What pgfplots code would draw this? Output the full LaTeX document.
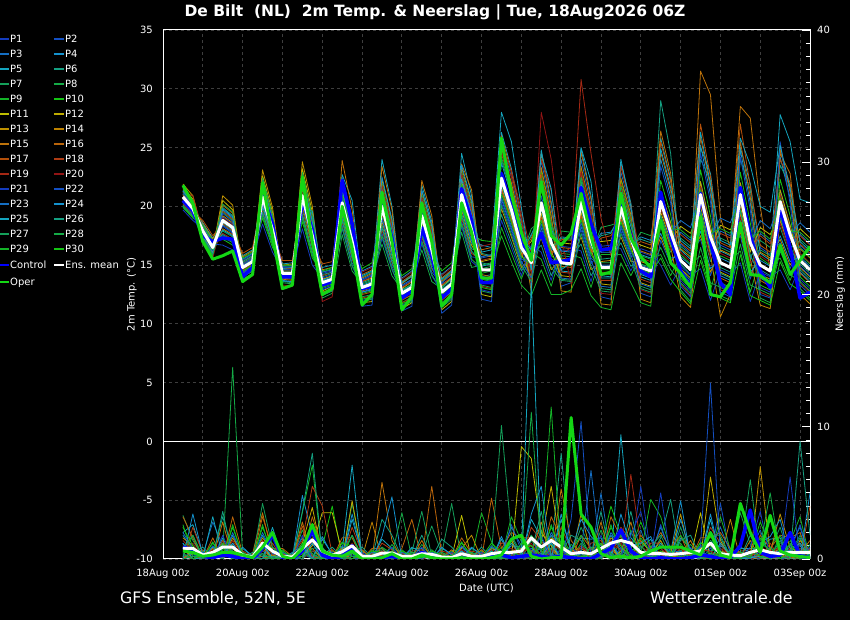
\documentclass[border=0pt]{standalone}
\usepackage{pgfplots}
\pgfplotsset{compat=1.18}
\usepackage{pgfplotstable}
\usepackage{fontspec}
\setmainfont{DejaVu Sans}

\definecolor{c1}{RGB}{20,60,190}
\definecolor{c2}{RGB}{20,80,195}
\definecolor{c3}{RGB}{20,110,195}
\definecolor{c4}{RGB}{20,145,205}
\definecolor{c5}{RGB}{20,165,190}
\definecolor{c6}{RGB}{20,160,130}
\definecolor{c7}{RGB}{20,160,90}
\definecolor{c8}{RGB}{20,170,70}
\definecolor{c9}{RGB}{20,180,40}
\definecolor{c10}{RGB}{20,195,20}
\definecolor{c11}{RGB}{190,190,0}
\definecolor{c12}{RGB}{190,170,0}
\definecolor{c13}{RGB}{190,145,0}
\definecolor{c14}{RGB}{190,130,0}
\definecolor{c15}{RGB}{190,115,10}
\definecolor{c16}{RGB}{185,100,10}
\definecolor{c17}{RGB}{180,80,10}
\definecolor{c18}{RGB}{175,60,20}
\definecolor{c19}{RGB}{165,40,20}
\definecolor{c20}{RGB}{145,20,20}
\definecolor{c21}{RGB}{20,60,190}
\definecolor{c22}{RGB}{20,80,195}
\definecolor{c23}{RGB}{20,110,195}
\definecolor{c24}{RGB}{20,145,205}
\definecolor{c25}{RGB}{20,165,190}
\definecolor{c26}{RGB}{20,160,130}
\definecolor{c27}{RGB}{20,160,90}
\definecolor{c28}{RGB}{20,170,70}
\definecolor{c29}{RGB}{20,180,40}
\definecolor{c30}{RGB}{20,195,20}
\definecolor{ctlblue}{RGB}{0,0,255}
\definecolor{opergreen}{RGB}{20,215,20}
\definecolor{gridgray}{RGB}{62,62,62}

% 2m temperature (deg C), 6-hourly, t in days from 18Aug 00z
\pgfplotstableread{
t p1 p2 p3 p4 p5 p6 p7 p8 p9 p10 p11 p12 p13 p14 p15 p16 p17 p18 p19 p20 p21 p22 p23 p24 p25 p26 p27 p28 p29 p30 ctl oper mean
0.5 20.5 21.0 20.0 21.3 20.7 21.4 20.3 21.0 21.2 19.9 21.7 20.7 21.9 21.0 20.4 21.5 20.6 21.2 20.2 20.9 19.7 21.1 20.6 21.3 20.4 20.1 20.8 21.6 20.0 20.8 20.5 21.8 20.8
0.75 19.5 20.0 19.1 20.2 19.7 20.4 19.4 19.9 20.1 19.0 20.6 19.7 20.9 20.0 19.5 20.5 19.6 20.9 19.3 19.9 18.8 20.1 19.6 20.3 19.4 19.2 19.8 20.5 19.1 19.8 19.6 20.2 19.8
1.0 18.3 17.6 18.0 17.4 18.6 17.8 18.2 17.2 18.0 18.4 17.5 18.1 17.7 18.5 17.5 17.9 18.8 17.8 18.2 17.0 18.1 17.6 18.4 17.4 18.0 18.3 17.3 17.9 18.4 17.7 17.5 17.0 17.9
1.25 17.0 16.2 16.7 15.9 17.3 16.4 16.8 15.8 16.6 17.1 16.1 16.7 16.3 17.2 16.0 16.5 17.5 16.4 16.9 15.6 16.8 16.2 17.0 16.0 16.6 16.9 15.9 16.5 17.1 16.3 17.0 15.5 16.5
1.5 18.3 19.1 17.5 19.7 18.6 19.9 17.9 18.9 19.5 17.2 20.5 18.7 20.9 19.2 18.1 20.1 18.5 19.6 17.7 19.0 16.7 19.4 18.4 19.8 18.0 17.6 18.8 20.2 17.4 18.9 17.3 15.8 18.8
1.75 17.7 18.5 17.0 19.0 18.0 19.2 17.4 18.3 18.8 16.7 19.7 18.1 20.1 18.6 17.6 19.4 17.9 18.9 17.2 18.4 16.3 18.7 17.8 19.1 17.5 17.1 18.2 19.5 16.9 18.3 17.2 16.2 18.2
2.0 15.4 14.4 15.0 14.0 15.8 14.7 15.2 13.8 14.9 15.5 14.3 15.1 14.5 15.7 14.2 14.8 16.0 14.6 15.3 13.6 15.1 14.3 15.5 14.1 14.9 15.3 14.0 14.7 15.6 14.5 14.0 13.6 14.8
2.25 15.9 14.9 15.5 14.5 16.3 15.2 15.7 14.3 15.4 16.0 14.8 15.6 15.0 16.2 14.7 15.3 16.5 15.1 15.8 14.1 15.6 14.8 16.0 14.6 15.4 15.8 14.5 15.2 16.1 15.0 14.8 14.2 15.3
2.5 20.2 21.2 19.4 21.8 20.6 22.0 19.8 20.9 21.5 19.0 22.6 20.7 23.1 21.3 20.1 22.2 20.4 21.6 19.6 21.0 18.5 21.4 20.3 21.9 20.0 19.5 20.8 22.4 19.2 20.9 21.0 22.0 20.8
2.75 17.5 18.3 16.8 18.8 17.8 19.0 17.2 18.1 18.6 16.5 19.5 17.9 19.9 18.4 17.4 19.2 17.7 18.7 17.0 18.2 16.1 18.5 17.6 18.9 17.3 16.9 18.0 19.3 16.7 18.1 18.5 17.5 18.0
3.0 14.8 14.0 14.5 13.6 15.1 14.2 14.6 13.5 14.4 14.9 13.9 14.5 14.1 15.0 13.8 14.3 15.4 14.1 14.7 13.3 14.6 13.9 14.9 13.7 14.4 14.7 13.6 14.2 15.0 14.0 14.0 13.0 14.3
3.25 14.8 13.9 14.5 13.6 15.2 14.2 14.7 13.4 14.4 15.0 13.8 14.5 14.1 15.1 13.7 14.3 15.4 14.1 14.7 13.2 14.6 13.9 14.9 13.6 14.4 14.8 13.5 14.2 15.0 14.0 14.0 13.3 14.3
3.5 20.2 21.4 19.1 22.1 20.6 22.4 19.7 21.1 21.8 18.7 23.2 20.8 23.8 21.5 20.0 22.7 20.5 22.0 19.4 21.2 18.1 21.7 20.3 22.3 19.9 19.3 20.9 22.9 19.0 21.0 20.5 22.5 20.9
3.75 16.9 17.9 15.9 18.5 17.2 18.8 16.5 17.6 18.3 15.6 19.5 17.4 20.0 18.0 16.7 19.1 17.1 18.4 16.2 17.8 15.0 18.2 17.0 18.7 19.6 16.1 17.5 19.2 15.8 17.6 18.0 17.0 17.5
4.0 14.3 13.0 13.8 12.5 14.8 13.3 14.0 12.2 13.6 14.4 12.8 13.8 13.2 14.6 12.7 13.5 15.1 13.2 14.1 11.9 13.9 12.9 14.4 12.6 13.7 14.2 12.4 13.4 14.5 13.1 13.3 12.5 13.5
4.25 14.5 13.3 14.0 12.8 15.0 13.6 14.3 12.6 13.9 14.7 13.2 14.1 13.5 14.8 13.0 13.8 15.3 13.6 14.4 12.3 14.2 13.2 14.6 12.9 14.0 14.4 12.8 13.7 14.8 13.4 13.6 13.0 13.8
4.5 20.9 18.4 21.7 19.6 22.7 19.0 20.6 17.6 22.0 20.0 21.2 19.3 22.3 20.2 23.9 20.3 21.5 18.7 21.8 19.7 18.1 20.8 19.4 22.4 21.4 18.8 20.5 18.2 21.1 19.9 22.2 20.0 20.3
4.75 17.6 15.2 18.3 16.3 20.5 15.7 17.3 14.5 18.5 16.7 17.8 16.0 18.8 16.9 19.7 17.0 18.1 15.5 18.4 16.4 14.9 17.4 16.2 19.0 18.0 15.6 17.1 15.0 17.7 16.6 18.5 16.5 17.0
5.0 12.0 13.7 12.7 14.5 13.3 14.0 12.3 13.4 12.6 14.7 11.8 13.6 13.0 13.9 12.8 14.2 12.5 13.6 12.2 14.4 13.1 11.5 13.8 12.7 14.1 13.5 11.9 13.2 12.9 12.1 13.0 11.6 13.1
5.25 12.2 14.1 13.0 14.9 13.6 14.4 12.5 13.7 12.8 15.2 11.9 13.9 13.3 14.3 13.1 14.6 12.7 14.0 12.4 14.8 13.4 11.6 14.2 12.9 14.5 13.8 12.1 13.5 13.2 12.3 13.2 12.5 13.4
5.5 20.7 17.7 21.6 19.1 24.0 18.4 20.4 16.8 22.0 19.6 21.1 18.7 22.3 19.8 23.4 20.0 21.4 18.0 21.8 19.3 17.3 20.5 18.9 22.5 21.3 18.2 20.2 17.5 20.9 19.5 20.5 21.2 20.0
5.75 17.4 14.9 18.2 16.1 20.0 15.5 17.1 14.1 18.5 16.5 17.7 15.8 18.8 16.7 19.7 16.8 18.0 15.2 18.3 16.2 14.6 17.3 15.9 18.9 17.9 15.3 17.0 14.7 17.6 16.4 17.3 17.0 16.8
6.0 11.6 13.2 12.3 13.9 12.8 13.5 11.8 12.9 12.1 14.1 11.3 13.0 12.5 13.4 12.3 13.6 12.0 13.1 11.8 13.8 12.6 11.1 13.3 12.2 13.5 12.9 11.5 12.7 12.4 11.7 12.2 11.2 12.6
6.25 12.0 13.7 12.9 14.5 13.3 14.0 12.3 13.4 12.4 14.7 11.8 13.6 13.0 14.1 12.8 14.2 12.5 13.6 12.2 14.4 13.3 11.5 13.8 12.7 14.1 13.3 11.9 13.2 12.9 12.1 12.8 12.3 13.1
6.5 19.8 17.1 20.6 18.4 21.8 17.8 19.5 16.3 21.0 18.9 20.2 18.1 21.3 19.0 22.2 19.2 20.5 17.4 20.8 18.6 16.8 19.7 18.2 21.4 20.3 17.6 19.4 17.0 20.0 18.7 18.2 20.3 19.2
6.75 16.9 14.4 17.7 15.6 18.7 15.0 16.6 13.6 18.0 16.0 17.2 15.3 18.3 16.2 19.2 16.3 17.5 14.7 17.8 15.7 14.1 16.8 15.4 18.4 17.4 14.8 16.5 14.2 17.1 15.9 15.8 17.0 16.3
7.0 11.5 13.4 12.3 14.2 12.9 13.7 11.8 13.0 12.1 14.5 11.2 13.2 12.6 13.6 12.4 13.9 12.0 13.3 11.7 14.1 12.7 10.9 13.5 12.2 13.8 13.1 11.4 12.8 12.5 11.6 12.2 11.5 12.7
7.25 12.2 13.9 13.0 14.9 13.6 14.4 12.5 13.9 12.8 15.2 11.9 13.9 13.3 14.3 13.3 14.6 12.7 14.0 12.4 14.8 13.4 11.6 14.2 12.7 14.5 13.8 12.1 13.5 13.2 12.3 13.0 12.5 13.4
7.5 21.7 18.7 22.6 20.1 24.5 19.4 21.4 17.8 23.0 20.6 22.1 19.7 23.3 20.8 23.6 21.0 22.4 19.0 22.8 20.3 18.3 21.5 19.9 23.5 22.3 19.2 21.2 18.5 21.9 20.5 21.5 20.3 21.0
7.75 18.7 15.7 19.6 17.1 20.9 16.4 18.4 14.8 20.0 17.6 19.1 16.7 20.3 17.8 21.4 18.0 19.4 16.0 19.8 17.3 15.3 18.5 16.9 20.5 19.3 16.2 18.2 15.5 18.9 17.5 18.8 17.8 18.0
8.0 12.9 15.6 14.0 16.7 14.9 16.0 13.3 15.0 13.8 17.1 12.5 15.3 14.5 15.9 14.2 16.3 13.6 15.4 13.2 16.6 14.6 12.1 15.7 13.9 16.1 15.2 12.8 14.7 14.3 13.1 13.5 13.9 14.6
8.25 12.7 15.8 14.2 16.5 15.1 15.8 13.1 15.2 13.6 17.0 12.3 15.5 14.7 15.7 14.0 16.5 13.4 15.6 13.0 16.8 14.4 11.9 15.9 13.7 16.3 15.0 12.6 14.9 14.5 12.9 13.5 13.9 14.6
8.5 20.3 22.9 25.5 21.6 26.3 19.3 24.0 21.1 18.2 24.7 22.1 21.6 19.8 25.0 21.4 26.0 21.4 24.5 25.2 24.6 18.8 20.8 20.6 23.7 28.0 21.9 20.1 24.2 17.5 21.1 22.8 25.8 22.4
8.75 17.9 20.2 22.5 19.0 23.2 16.9 21.1 18.6 16.0 21.8 19.5 19.0 17.4 22.0 18.8 22.9 18.8 21.5 23.0 22.5 16.5 18.3 18.1 20.9 25.5 19.2 17.6 21.3 15.3 18.6 20.0 21.0 19.7
9.0 15.1 16.8 18.5 16.0 19.1 14.5 17.5 15.7 13.8 18.0 16.3 16.0 14.8 18.2 15.8 18.9 15.8 17.9 19.7 19.2 14.1 15.5 15.3 17.4 19.9 16.2 15.0 17.7 13.3 15.7 16.8 17.8 16.5
9.25 16.4 13.1 15.4 17.6 14.5 15.8 13.7 18.1 16.1 14.8 17.0 14.0 15.7 12.7 16.6 14.9 17.3 14.3 16.0 13.4 16.7 15.2 13.9 16.3 14.6 17.5 13.6 15.5 12.4 15.1 15.8 15.4 15.2
9.5 17.9 20.9 23.9 19.4 24.8 16.7 22.1 18.8 15.5 23.0 20.0 19.4 17.3 23.3 19.1 24.5 19.1 22.7 24.0 28.0 16.1 18.5 18.2 21.8 24.5 19.7 17.6 22.4 14.6 18.8 17.7 22.1 20.3
9.75 15.1 17.4 19.7 16.2 20.4 14.1 18.3 15.8 13.2 19.0 16.7 16.2 14.6 19.2 16.0 20.1 16.0 18.7 21.3 24.0 13.7 15.5 15.3 18.1 21.5 16.4 14.8 18.5 12.5 15.8 15.2 17.5 16.9
10.0 16.3 13.2 15.3 17.4 14.5 15.8 13.8 17.9 16.0 14.8 16.9 14.1 15.6 12.8 16.5 14.9 17.2 14.4 15.9 17.4 16.6 15.2 13.9 16.2 14.6 17.3 13.7 15.5 12.5 15.1 15.3 16.7 15.2
10.25 16.2 13.5 15.2 17.3 14.4 15.7 13.7 17.8 15.9 15.0 16.8 14.0 15.5 12.7 16.4 14.8 17.1 14.3 16.5 13.4 16.5 15.1 13.8 16.1 15.2 17.2 13.6 15.4 12.9 15.0 15.5 17.7 15.1
10.5 18.0 21.0 24.0 19.5 24.9 16.8 22.2 18.9 15.6 23.1 20.1 19.5 17.4 23.4 19.2 24.6 19.2 22.8 30.8 23.0 16.2 18.6 18.3 21.9 25.0 19.8 17.7 22.5 14.7 18.9 21.6 21.1 20.4
10.75 15.1 17.6 20.1 16.4 20.9 14.1 18.6 15.9 13.1 19.4 16.9 16.4 14.6 19.6 16.1 20.6 16.1 19.1 24.5 19.5 13.6 15.6 15.4 18.4 22.1 16.6 14.9 18.9 12.4 15.9 18.5 17.5 17.1
11.0 16.2 12.3 15.0 17.7 13.9 15.5 13.0 18.2 15.9 14.3 17.0 13.4 15.3 11.7 16.4 14.4 17.3 13.7 19.0 12.6 16.6 14.8 13.2 16.1 14.1 17.5 12.8 15.2 11.4 14.6 16.3 14.2 14.8
11.25 16.3 12.1 15.0 17.8 13.9 15.6 12.9 18.4 15.9 14.2 17.1 13.3 15.4 11.6 16.5 14.4 17.5 13.7 15.8 12.5 16.7 14.8 13.1 16.1 14.0 17.7 12.7 15.2 11.2 14.6 16.4 14.4 14.8
11.5 17.9 20.4 22.9 19.2 23.7 16.9 21.4 18.7 15.9 22.2 19.7 19.2 17.4 22.4 18.9 23.4 18.9 21.9 23.5 21.5 16.4 18.4 18.2 21.2 24.0 19.4 17.7 21.7 15.2 18.7 20.0 21.1 19.9
11.75 15.7 17.7 19.7 16.7 20.3 14.9 18.5 16.3 14.1 19.1 17.1 16.7 15.3 19.3 16.5 20.1 16.5 18.9 20.0 18.5 14.5 16.1 15.9 18.3 20.0 16.9 15.5 18.7 13.5 16.3 17.5 17.3 17.3
12.0 16.1 12.6 15.0 17.4 14.0 15.4 13.2 17.8 15.8 14.3 16.7 13.5 15.3 12.1 16.2 14.5 17.0 13.8 15.6 12.9 16.4 14.8 13.4 15.9 14.2 17.2 13.0 15.1 11.8 14.6 14.5 15.7 14.8
12.25 15.8 12.3 14.7 17.1 13.7 15.1 12.9 17.5 15.5 14.0 16.4 13.2 15.0 11.8 15.9 14.2 16.7 13.5 15.3 12.6 16.1 14.5 13.1 15.6 13.9 16.9 12.7 14.8 11.5 14.3 14.0 14.8 14.5
12.5 21.3 17.1 18.9 24.0 25.8 29.0 18.3 21.0 15.9 22.2 19.5 21.3 17.4 18.9 26.4 24.6 25.5 19.8 21.0 18.6 15.0 23.4 20.4 17.7 24.9 19.2 19.2 16.5 20.7 15.6 21.2 18.8 20.4
12.75 18.6 15.1 16.6 20.8 22.3 24.5 16.1 18.3 14.1 19.3 17.1 18.6 15.3 16.6 22.8 21.3 22.1 17.3 18.3 16.3 13.3 20.3 17.8 15.6 21.6 16.8 16.8 14.6 18.1 13.8 17.5 15.2 17.8
13.0 13.7 16.8 17.8 14.4 16.3 15.1 17.3 12.9 15.9 13.9 18.3 14.7 16.4 12.3 15.4 14.2 16.9 17.6 13.4 16.1 14.9 13.2 18.8 15.7 17.1 14.6 16.6 13.5 18.0 12.7 14.5 14.3 15.4
13.25 12.8 16.0 17.1 13.5 15.5 14.2 16.6 11.9 15.1 13.0 17.7 13.9 15.7 11.4 14.6 13.3 16.2 16.9 12.4 15.3 14.1 12.3 18.2 15.0 16.4 13.7 15.9 12.6 17.3 11.7 13.1 13.1 14.6
13.5 22.1 17.2 19.3 25.2 25.0 24.0 18.6 21.7 15.8 23.1 20.0 22.1 17.5 19.3 31.5 25.9 27.0 20.3 21.7 18.9 14.7 24.5 21.0 17.9 26.3 19.6 19.6 16.5 21.4 15.4 21.1 19.1 21.0
13.75 18.3 14.1 15.9 21.0 22.8 22.2 15.3 18.0 12.9 19.2 16.5 18.3 14.4 15.9 29.5 21.6 22.5 16.8 18.0 15.6 12.0 20.4 17.4 14.7 21.9 16.2 16.2 13.5 17.7 12.6 17.0 12.5 17.4
14.0 13.3 16.7 17.9 14.1 16.2 14.8 17.3 12.4 15.8 13.5 18.4 14.4 16.3 10.6 19.0 13.9 16.9 17.7 12.9 16.0 14.6 12.7 19.0 15.6 17.1 14.3 16.5 13.1 18.1 12.2 13.5 12.3 15.2
14.25 12.9 16.3 17.5 13.7 15.8 14.4 16.9 12.0 15.4 13.1 18.0 14.0 15.9 12.5 16.5 13.5 16.5 17.3 12.5 15.6 14.2 12.3 18.6 15.2 16.7 13.9 16.1 12.7 17.7 11.8 12.5 13.5 14.8
14.5 22.0 17.5 19.4 24.8 25.0 24.0 18.8 21.6 16.2 22.9 20.0 22.0 17.8 19.4 28.5 25.5 27.0 20.4 21.6 19.1 15.2 24.2 21.0 18.1 25.8 19.7 19.7 16.8 21.3 15.9 21.6 18.6 21.0
14.75 17.7 13.8 15.5 20.3 21.9 21.4 14.9 17.5 12.7 18.6 16.1 17.7 14.1 15.5 27.5 20.8 21.7 16.3 17.5 15.2 11.9 19.7 16.9 14.4 23.5 15.8 15.8 13.3 17.2 12.4 17.5 14.2 16.9
15.0 13.1 16.5 17.7 13.9 16.0 14.6 17.1 12.2 15.6 13.3 18.2 14.2 16.1 11.6 20.0 13.7 16.7 17.5 12.7 15.8 14.4 12.5 18.8 15.4 20.0 14.1 16.3 12.9 17.9 12.0 14.5 14.1 15.0
15.25 12.7 15.9 17.0 13.4 15.4 14.1 16.5 11.8 15.0 12.9 17.6 13.8 15.6 11.3 14.5 13.2 16.1 16.8 12.3 15.2 14.0 12.2 18.1 14.9 19.5 13.6 15.8 12.5 17.2 11.6 13.1 13.5 14.5
15.5 21.4 16.9 18.8 24.2 27.8 23.5 18.2 21.0 15.6 22.3 19.4 21.4 17.2 18.8 24.5 24.9 24.0 19.8 21.0 18.5 14.6 25.5 20.4 17.5 25.2 19.1 19.1 16.2 20.7 15.3 20.0 16.7 20.4
15.75 18.4 14.7 16.3 20.7 25.5 21.8 15.8 18.1 13.7 19.2 16.8 18.4 15.0 16.3 22.8 21.2 22.0 17.1 18.1 16.0 12.9 20.2 17.6 15.3 21.5 16.6 16.6 14.2 17.9 13.4 16.5 14.2 17.6
16.0 13.8 16.7 17.6 14.4 20.6 15.1 17.2 13.0 15.9 14.0 18.1 14.8 16.4 12.5 15.4 14.3 16.8 17.5 13.5 16.0 14.9 13.3 18.6 15.7 17.0 14.6 16.5 13.6 17.8 12.8 12.2 15.4 15.4
16.25 13.0 15.9 16.8 13.6 20.3 14.3 16.4 12.2 15.1 13.2 17.3 14.0 15.6 11.7 14.6 13.5 16.0 16.7 12.7 15.2 14.1 12.5 17.8 14.9 16.2 13.8 15.7 12.8 17.0 12.0 12.7 16.6 14.6
}\temptab

% precipitation (mm), 6-hourly
\pgfplotstableread{
t p1 p2 p3 p4 p5 p6 p7 p8 p9 p10 p11 p12 p13 p14 p15 p16 p17 p18 p19 p20 p21 p22 p23 p24 p25 p26 p27 p28 p29 p30 ctl oper mean
0.5 0.0 1.2 0.2 1.8 2.0 0.6 3.3 0.4 2.6 0.2 1.0 0.0 1.6 0.8 0.0 3.2 0.2 0.0 1.4 0.6 0.0 0.4 2.0 0.0 1.2 0.2 0.8 0.0 0.4 2.4 0.9 0.6 0.8
0.75 0.8 0.2 0.0 0.6 2.6 0.4 1.4 0.0 0.2 1.8 0.0 0.6 1.0 0.0 0.4 1.6 0.0 2.4 0.6 1.2 0.2 0.0 0.8 3.4 0.0 0.4 1.8 0.2 0.0 1.0 0.7 0.5 0.8
1.0 0.1 0.0 0.3 0.1 0.4 0.0 0.2 0.6 0.0 0.2 0.1 0.3 0.0 0.1 0.7 0.0 0.2 0.4 0.1 0.0 0.5 0.1 0.0 0.3 0.1 0.9 0.0 0.2 0.3 0.1 0.2 0.2 0.3
1.25 0.0 0.6 2.8 0.9 0.0 0.3 0.0 0.2 1.3 0.1 0.5 0.0 0.8 0.4 0.0 1.6 0.1 0.0 0.7 0.3 0.0 0.2 1.0 0.0 3.2 0.1 0.4 0.0 0.2 1.2 0.1 0.3 0.5
1.5 0.4 0.0 1.0 0.2 1.6 3.2 0.6 0.5 0.0 0.8 0.2 1.2 0.0 0.4 2.8 0.0 0.6 1.4 0.2 0.0 1.8 0.4 0.0 1.0 0.2 3.6 0.0 0.6 1.2 0.2 0.3 0.5 0.9
1.75 0.0 1.2 0.2 1.8 0.0 0.6 0.0 14.5 2.6 0.2 1.0 0.0 1.6 0.8 0.0 3.2 0.2 0.0 1.4 0.6 0.0 0.4 2.0 0.0 1.2 0.2 0.8 0.0 0.4 2.4 0.2 0.5 0.9
2.0 0.2 0.1 0.0 0.2 0.8 0.1 0.4 0.3 0.1 0.5 0.0 0.2 0.3 0.0 0.1 0.4 0.0 0.6 0.2 0.3 0.1 0.0 0.2 0.9 0.0 0.1 0.5 0.1 0.0 0.3 0.0 0.3 0.3
2.25 0.0 0.0 0.1 0.0 0.2 0.0 0.1 0.3 0.0 0.1 0.0 0.2 0.0 0.0 0.4 0.0 0.1 0.2 0.0 0.0 0.3 0.0 0.0 0.2 0.0 0.5 0.0 0.1 0.2 0.0 0.0 0.1 0.15
2.5 0.0 1.2 0.2 1.8 0.0 0.6 0.0 0.4 2.6 0.2 1.0 0.0 1.6 0.8 3.5 3.2 0.2 0.0 1.4 0.6 0.0 0.4 2.0 0.0 1.2 0.2 4.2 0.0 0.4 2.4 0.8 0.9 1.2
2.75 0.4 0.1 0.0 0.3 2.4 0.2 0.7 0.0 0.1 0.9 0.0 0.3 0.5 0.0 0.2 0.8 0.0 1.2 0.3 0.6 0.1 0.0 0.4 1.7 0.0 0.2 0.9 0.1 0.0 0.5 1.8 2.0 0.6
3.0 0.0 0.3 0.1 0.5 0.0 0.2 0.0 0.1 0.7 0.1 0.3 0.0 0.4 0.2 0.0 0.8 0.1 0.0 0.4 0.2 0.0 0.1 0.5 0.0 0.3 0.1 0.2 0.0 0.1 0.6 0.1 0.2 0.2
3.25 0.1 0.0 0.0 0.1 0.4 0.0 0.2 0.0 0.0 0.3 0.0 0.1 0.2 0.0 0.0 0.2 0.0 0.3 0.1 0.2 0.0 0.0 0.1 0.5 0.0 0.0 0.3 0.0 0.0 0.2 0.0 0.0 0.15
3.5 0.4 0.0 1.0 4.8 1.6 0.0 0.6 2.2 3.5 0.8 0.2 1.2 0.0 0.4 2.8 0.0 2.5 1.4 0.2 0.0 1.8 0.4 0.0 1.0 0.2 3.6 0.0 0.6 1.2 0.2 0.6 0.8 0.8
3.75 0.0 1.2 0.2 1.8 0.0 0.6 0.0 0.4 7.1 0.2 1.0 3.9 1.6 0.8 0.0 3.2 0.2 5.5 1.4 0.6 0.0 0.4 2.0 0.0 1.2 8.0 0.8 0.0 0.4 2.4 2.2 2.6 1.45
4.0 0.4 0.1 0.0 0.3 1.5 0.2 0.7 0.0 0.1 0.9 3.5 0.3 0.5 0.0 0.2 0.8 0.0 4.0 0.3 0.6 0.1 0.0 0.4 1.7 0.0 0.2 0.9 0.1 0.0 0.5 0.3 0.6 0.6
4.25 0.1 0.0 0.3 0.1 0.4 0.0 0.2 0.6 0.0 4.0 3.5 0.3 0.0 0.1 0.7 0.0 0.2 0.4 0.1 0.0 0.5 0.1 0.0 0.3 0.1 0.9 0.0 0.2 0.3 0.1 0.0 0.3 0.3
4.5 0.0 0.6 0.1 0.9 0.0 0.3 0.0 0.2 1.3 0.1 0.5 0.0 0.8 0.4 0.0 1.6 0.1 0.0 0.7 0.3 0.0 0.2 1.0 0.0 0.6 0.1 0.4 0.0 0.2 1.2 0.2 0.2 0.55
4.75 0.8 0.2 0.0 0.6 3.0 0.4 4.2 0.0 0.2 1.8 0.0 4.4 1.0 0.0 0.4 1.6 0.0 2.4 0.6 1.2 0.2 0.0 0.8 3.4 7.1 0.4 1.8 0.2 0.0 1.0 1.0 0.6 1.0
5.0 0.1 0.0 0.3 0.1 0.4 0.0 0.2 0.6 0.0 0.2 0.1 0.3 0.0 0.1 0.7 0.0 0.2 0.4 0.1 0.0 0.5 0.1 0.0 0.3 0.1 0.9 0.0 0.2 0.3 0.1 0.1 0.0 0.2
5.25 0.0 0.3 0.1 0.5 0.0 0.2 0.0 0.1 0.7 0.1 0.3 0.0 0.4 2.8 0.0 0.8 0.1 0.0 0.4 0.2 0.0 0.1 0.5 0.0 0.3 0.1 0.2 0.0 0.1 0.6 0.0 0.0 0.2
5.5 0.4 0.1 0.0 0.3 1.5 0.2 0.7 0.0 0.1 0.9 0.0 0.3 0.5 0.0 5.8 0.8 0.0 1.2 0.3 0.6 0.1 0.0 0.4 1.7 0.0 3.0 0.9 0.1 0.0 0.5 0.1 0.1 0.45
5.75 0.2 0.0 0.5 0.1 0.8 0.0 0.3 1.1 0.0 0.4 0.1 0.6 0.0 0.2 1.4 0.0 0.3 0.7 0.1 0.0 0.9 0.2 0.0 4.7 0.1 1.8 0.0 0.3 0.6 0.1 0.2 0.4 0.45
6.0 0.0 0.3 0.1 0.5 0.0 0.2 0.0 0.1 0.7 0.1 0.3 0.0 0.4 0.2 0.0 0.8 0.1 0.0 0.4 0.2 0.0 0.1 0.5 0.0 0.3 0.1 0.2 3.5 0.1 0.6 0.0 0.0 0.2
6.25 0.2 0.1 0.0 0.2 0.8 0.1 0.4 0.0 0.1 0.5 0.0 0.2 0.3 0.0 0.1 3.0 0.0 0.6 0.2 0.3 0.1 0.0 0.2 0.9 0.0 0.1 0.5 0.1 0.0 0.3 0.0 0.0 0.2
6.5 0.2 0.0 0.5 0.1 0.8 0.0 0.3 1.1 0.0 0.4 0.1 0.6 0.0 0.2 1.4 0.0 0.3 0.7 0.1 0.0 0.9 0.2 0.0 0.5 0.1 1.8 3.6 0.3 0.6 0.1 0.5 0.3 0.4
6.75 0.0 0.3 0.1 0.5 0.0 0.2 2.5 0.1 0.7 0.1 0.3 0.0 0.4 0.2 0.0 5.5 0.1 0.0 0.4 0.2 0.0 0.1 0.5 0.0 0.3 0.1 0.2 0.0 0.1 0.6 0.2 0.1 0.35
7.0 0.2 0.1 0.0 0.2 0.8 0.1 0.4 0.0 0.1 0.5 0.0 0.2 0.3 0.0 0.1 0.4 0.0 0.6 0.2 0.3 0.1 0.0 0.2 0.9 0.0 1.5 0.5 0.1 0.0 0.3 0.0 0.0 0.15
7.25 0.1 0.0 0.3 0.1 0.4 0.0 4.2 0.6 0.0 0.2 0.1 0.3 0.0 0.1 0.7 0.0 0.2 0.4 0.1 0.0 0.5 0.1 0.0 0.3 0.1 0.9 0.0 0.2 0.3 0.1 0.0 0.0 0.1
7.5 0.0 0.6 0.1 0.9 0.0 0.3 0.0 0.2 1.3 0.1 3.3 0.0 0.8 0.4 0.0 1.6 0.1 0.0 0.7 0.3 0.0 0.2 1.0 0.0 0.6 0.1 0.4 0.0 0.2 1.2 0.1 0.1 0.4
7.75 0.2 0.1 0.0 0.2 0.8 0.1 0.4 0.0 0.1 0.5 0.0 0.2 1.8 0.0 0.1 0.4 0.0 0.6 0.2 0.3 0.1 0.0 0.2 0.9 0.0 0.1 0.5 0.1 0.0 0.3 0.0 0.0 0.2
8.0 0.1 0.0 0.3 0.1 0.4 0.0 0.2 0.6 3.5 0.2 0.1 0.3 0.0 0.1 0.7 0.0 0.2 0.4 0.1 0.0 0.5 0.1 0.0 0.3 0.1 0.9 0.0 0.2 0.3 0.1 0.0 0.0 0.2
8.25 0.0 0.6 0.1 0.9 0.0 0.3 0.0 0.2 1.3 0.1 0.5 0.0 0.8 0.4 0.0 4.6 0.1 0.0 0.7 0.3 0.0 0.2 1.0 0.0 0.6 0.1 0.4 0.0 0.2 1.2 0.2 0.1 0.4
8.5 0.4 0.1 0.0 0.3 1.5 0.2 0.7 0.0 0.1 0.9 0.0 0.3 0.5 0.0 0.2 0.8 0.0 1.2 0.3 0.6 0.1 0.0 0.4 1.7 0.0 0.2 10.1 0.1 0.0 0.5 0.3 0.3 0.5
8.75 0.4 2.6 0.2 1.0 0.0 1.6 0.8 0.0 3.2 0.2 0.0 1.4 0.6 0.0 0.4 2.0 0.0 1.2 0.2 0.8 0.0 0.4 2.4 0.0 1.2 0.2 1.8 0.0 0.6 0.0 0.1 1.5 0.5
9.0 0.0 0.6 0.1 0.9 0.0 0.3 0.0 0.2 1.3 0.1 8.5 0.0 0.8 0.4 0.0 1.6 0.1 0.0 0.7 0.3 0.0 0.2 1.0 0.0 0.3 0.1 0.4 0.0 0.2 1.2 0.2 1.8 0.6
9.25 0.8 0.2 0.0 0.6 3.0 0.4 1.4 0.0 0.2 1.8 7.6 0.6 1.0 0.0 0.4 1.6 0.0 2.4 0.6 1.2 0.2 0.0 0.8 3.4 21.0 0.4 1.8 11.1 0.0 1.0 0.3 0.2 1.6
9.5 0.4 0.0 1.0 0.2 1.6 0.0 0.6 2.2 0.0 0.8 2.0 1.2 0.0 0.4 2.8 0.0 0.6 1.4 0.2 0.0 1.8 0.4 0.0 5.5 0.2 3.6 0.0 0.6 1.2 0.2 0.2 0.0 0.9
9.75 0.0 1.2 0.2 1.8 0.0 0.6 0.0 0.4 2.6 0.2 1.0 5.5 1.6 0.8 0.0 3.2 0.2 0.0 1.4 0.6 0.0 0.4 2.0 0.0 1.2 0.2 0.8 0.0 11.5 2.4 0.1 0.1 1.4
10.0 0.8 0.2 0.0 0.6 3.0 8.0 1.4 0.0 0.2 1.8 0.0 0.6 1.0 0.0 5.3 1.6 0.0 2.4 0.6 1.2 0.2 0.0 0.8 3.4 0.0 0.4 1.8 0.2 0.0 1.0 0.2 0.1 0.9
10.25 0.2 0.0 0.5 0.1 0.8 0.0 0.3 1.1 0.0 0.4 0.1 0.6 0.0 0.2 1.4 0.0 0.3 0.7 0.1 0.0 0.9 3.0 0.0 0.5 0.1 1.8 0.0 0.3 0.6 0.1 0.1 10.7 0.4
10.5 0.6 1.0 0.0 0.4 1.6 0.0 2.4 0.6 1.2 0.2 0.0 0.8 3.4 0.0 0.4 1.8 0.2 0.0 1.0 0.8 0.2 10.4 0.6 3.0 0.4 1.4 0.0 0.2 1.8 0.0 0.0 3.4 0.5
10.75 0.4 0.1 0.0 0.3 1.5 0.2 0.7 0.0 0.1 0.9 0.0 0.3 0.5 0.0 0.2 0.8 0.0 1.2 0.3 0.6 0.1 0.0 6.7 1.7 0.0 0.2 0.9 0.1 0.0 0.5 0.0 2.4 0.4
11.0 0.4 0.0 5.0 0.2 1.6 0.0 0.6 2.2 0.0 0.8 0.2 1.2 0.0 0.4 2.8 0.0 0.6 1.4 0.2 0.0 1.8 0.4 0.0 1.0 0.2 3.6 0.0 0.6 1.2 0.2 0.4 0.4 0.8
11.25 0.0 1.2 0.2 1.8 0.0 0.6 0.0 0.4 2.6 4.0 1.0 0.0 1.6 0.8 0.0 3.2 0.2 0.0 1.4 0.6 0.0 0.4 2.0 0.0 1.2 0.2 0.8 0.0 0.4 2.4 0.8 0.1 1.2
11.5 0.8 0.2 0.0 0.6 9.4 0.4 1.4 0.0 0.2 1.8 0.0 0.6 1.0 0.0 0.4 1.6 0.0 2.4 0.6 1.2 0.2 0.0 0.8 3.4 0.0 0.4 1.8 0.2 0.0 1.0 2.2 0.2 1.4
11.75 0.4 0.0 1.0 0.2 1.6 0.0 0.6 2.2 0.0 0.8 0.2 1.2 0.0 0.4 2.8 0.0 0.6 1.4 6.4 0.0 1.8 0.4 0.0 1.0 0.2 3.6 0.0 0.6 1.2 0.2 0.6 0.1 1.2
12.0 5.5 0.6 2.2 0.0 0.8 0.2 1.2 0.0 0.4 2.8 0.0 0.6 1.4 0.2 0.0 1.8 0.4 0.0 1.0 0.2 3.6 0.0 0.6 1.2 0.2 0.4 0.0 1.0 0.2 1.6 0.1 0.2 0.5
12.25 0.4 0.1 0.0 0.3 1.5 0.2 0.7 0.0 4.5 0.9 0.0 0.3 0.5 0.0 0.2 0.8 0.0 1.2 0.3 0.6 0.1 0.0 0.4 1.7 0.0 0.2 0.9 0.1 0.0 0.5 0.0 0.6 0.4
12.5 0.4 2.6 0.2 1.0 0.0 1.6 0.8 0.0 3.2 0.2 0.0 1.4 0.6 0.0 0.4 2.0 0.0 1.2 0.2 0.8 5.0 0.4 2.4 0.0 1.2 0.2 1.8 0.0 0.6 0.0 0.1 0.9 0.4
12.75 0.0 0.3 0.1 0.5 0.0 4.5 0.0 0.1 0.7 0.1 0.3 0.0 0.4 0.2 0.0 0.8 0.1 0.0 0.4 0.2 0.0 0.1 0.5 0.0 0.3 0.1 0.2 0.0 0.1 0.6 0.0 0.9 0.35
13.0 0.6 1.0 0.0 4.4 1.6 0.0 2.4 0.6 1.2 0.2 0.0 0.8 3.4 0.0 0.4 1.8 0.2 0.0 1.0 0.8 0.2 0.0 0.6 3.0 0.4 1.4 0.0 0.2 1.8 0.0 0.0 0.9 0.4
13.25 0.2 0.0 0.5 0.1 0.8 0.0 0.3 1.1 0.0 0.4 0.1 0.6 0.0 0.2 1.4 0.0 0.3 0.7 0.1 0.0 0.9 0.2 0.0 0.5 0.1 1.8 0.0 0.3 0.6 0.1 0.1 0.6 0.5
13.5 0.0 0.6 0.1 0.9 0.0 0.3 0.0 0.2 1.3 0.1 3.5 0.0 0.8 0.4 0.0 1.6 0.1 0.0 0.7 0.3 0.0 1.0 1.0 0.0 0.6 0.1 0.4 0.0 0.2 1.2 0.3 0.3 0.6
13.75 0.8 0.2 0.0 0.6 3.0 0.4 1.4 0.0 0.2 1.8 0.0 6.2 1.0 0.0 0.4 1.6 0.0 2.4 0.6 1.2 0.2 13.3 0.8 3.4 0.0 0.4 1.8 0.2 0.0 1.0 0.2 2.0 1.2
14.0 0.4 4.2 0.2 1.0 0.0 1.6 0.8 0.0 3.2 0.2 0.0 1.4 0.6 0.0 0.4 2.0 0.0 1.2 0.2 0.8 0.0 0.4 2.4 0.0 1.2 0.2 1.8 0.0 0.6 0.0 0.0 0.3 0.4
14.25 0.0 0.3 0.1 0.5 0.0 0.2 0.0 0.1 0.7 0.1 0.3 0.0 0.4 3.0 0.0 0.8 0.1 0.0 0.4 0.2 0.0 0.1 0.5 0.0 0.3 0.1 0.2 0.0 0.1 0.6 0.1 0.1 0.3
14.5 0.2 0.1 0.0 0.2 0.8 0.1 0.4 3.5 0.1 0.5 0.0 0.2 0.3 0.0 0.1 0.4 0.0 0.6 0.2 0.3 0.1 0.0 0.2 0.9 0.0 0.1 0.5 0.1 0.0 0.3 1.0 4.2 0.25
14.75 0.2 0.0 0.5 0.1 0.8 0.0 0.3 1.1 0.0 0.4 0.1 0.6 0.0 0.2 1.4 0.0 0.3 0.7 0.1 0.0 0.9 0.2 0.0 0.5 0.1 1.8 6.0 0.3 0.6 0.1 3.7 2.0 0.5
15.0 0.0 0.6 2.2 0.0 0.8 0.2 1.2 0.0 0.4 2.8 0.0 0.6 7.0 0.2 0.0 1.8 0.4 0.0 1.0 0.2 3.6 0.0 0.6 1.2 0.2 0.4 0.0 1.0 0.2 1.6 0.5 0.5 0.7
15.25 0.4 0.1 0.0 0.3 1.5 0.2 0.7 0.0 0.1 0.9 0.0 0.3 0.5 0.0 0.2 0.8 0.0 1.2 0.3 0.6 0.1 0.0 0.4 1.7 0.0 0.2 0.9 5.0 0.0 0.5 0.2 3.3 0.5
15.5 0.6 1.0 0.0 0.4 1.6 0.0 2.4 0.6 1.2 0.2 0.0 0.8 3.4 0.0 0.4 1.8 0.2 0.0 1.0 0.8 0.2 0.0 0.6 3.0 0.4 1.4 0.0 0.2 1.8 0.0 0.3 0.6 0.4
15.75 0.0 0.6 0.1 0.9 0.0 0.3 0.0 0.2 1.3 0.1 0.5 0.0 0.8 0.4 0.0 1.6 0.1 0.0 0.7 0.3 6.2 0.2 1.0 0.0 0.6 0.1 0.4 0.0 0.2 1.2 2.0 0.3 0.5
16.0 0.4 2.6 0.2 1.0 0.0 1.6 0.8 0.0 3.2 0.2 0.0 1.4 0.6 0.0 0.4 2.0 0.0 1.2 0.2 0.8 0.0 0.4 2.4 0.0 1.2 8.9 1.8 0.0 0.6 0.0 0.2 0.2 0.5
16.25 0.2 0.0 0.5 0.1 0.8 0.0 0.3 1.1 0.0 0.4 0.1 0.6 0.0 0.2 1.4 0.0 4.0 0.7 0.1 0.0 0.9 0.2 0.0 5.0 0.1 1.8 0.0 0.3 0.6 0.1 0.1 0.1 0.5
}\preciptab

\begin{document}
\begin{tikzpicture}
\fill[black] (0pt,0pt) rectangle (850pt,620pt);

\begin{axis}[
  at={(163pt,61pt)}, anchor=south west,
  scale only axis, width=647pt, height=529pt,
  xmin=0, xmax=16.25, ymin=-10, ymax=35,
  xtick={0,2,...,16},
  xticklabels={18Aug 00z,20Aug 00z,22Aug 00z,24Aug 00z,26Aug 00z,28Aug 00z,30Aug 00z,01Sep 00z,03Sep 00z},
  minor xtick={1,3,...,15},
  ytick={-10,-5,...,35},
  yticklabels={-10,-5,0,5,10,15,20,25,30,35},
  xmajorgrids, xminorgrids, ymajorgrids,
  grid style={draw=gridgray, dash pattern=on 3pt off 3pt, line width=0.8pt},
  major tick length=0pt, minor tick length=0pt,
  axis line style={white, line width=1pt},
  tick label style={white, font=\fontsize{10}{12}\selectfont, inner sep=0pt},
  xticklabel style={anchor=base, yshift=-18pt},
  yticklabel style={anchor=east, xshift=-10pt},
  ylabel={2m Temp. (°C)},
  ylabel style={white, font=\fontsize{10}{12}\selectfont, at={(axis description cs:-0.048,0.5)}, anchor=center},
  xlabel={Date (UTC)},
  xlabel style={white, font=\fontsize{10}{12}\selectfont, at={(axis description cs:0.5,0)}, anchor=base, yshift=-33pt},
  extra y ticks={0}, extra y tick labels={},
  extra y tick style={grid=major, major grid style={white, solid, line width=1.2pt}},
  every axis plot/.append style={line join=round},
]
\pgfplotsinvokeforeach{1,...,30}{
  \addplot[color=c#1, line width=0.8pt] table[x=t, y=p#1] {\temptab};
}
\addplot[ctlblue, line width=3.5pt] table[x=t, y=ctl] {\temptab};
\addplot[white, line width=3pt] table[x=t, y=mean] {\temptab};
\addplot[opergreen, line width=3pt] table[x=t, y=oper] {\temptab};
\end{axis}

\begin{axis}[
  at={(163pt,61pt)}, anchor=south west,
  scale only axis, width=647pt, height=529pt,
  xmin=0, xmax=16.25, ymin=0, ymax=40,
  axis x line=none, axis y line*=right,
  ytick={0,10,...,40}, yticklabels={0,10,20,30,40},
  minor ytick={1,...,39},
  tick align=inside,
  major tick length=8pt, minor tick length=4pt,
  tick style={white, line width=0.8pt},
  axis line style={white, line width=1pt},
  yticklabel style={white, font=\fontsize{10}{12}\selectfont, anchor=west, xshift=7pt, inner sep=0pt},
  ylabel={Neerslag (mm)},
  ylabel style={white, font=\fontsize{10}{12}\selectfont, at={(axis description cs:1.0464,0.5)}, anchor=center},
  every axis plot/.append style={line join=round},
]
\pgfplotsinvokeforeach{1,...,30}{
  \addplot[color=c#1, line width=0.8pt] table[x=t, y=p#1] {\preciptab};
}
\addplot[ctlblue, line width=3.5pt] table[x=t, y=ctl] {\preciptab};
\addplot[white, line width=3pt] table[x=t, y=mean] {\preciptab};
\addplot[opergreen, line width=3pt] table[x=t, y=oper] {\preciptab};
\end{axis}

% legend
\begin{scope}[font=\fontsize{10}{12}\selectfont]
\foreach \r in {0,...,14}{
  \pgfmathtruncatemacro\a{2*\r+1}
  \pgfmathtruncatemacro\b{2*\r+2}
  \pgfmathsetmacro\yy{620-39.3-15*\r}
  \draw[color=c\a, line width=1.6pt] (0pt,\yy pt) -- (9pt,\yy pt);
  \node[white, anchor=base west, inner sep=0pt] at (10pt,\yy pt-3.6pt) {P\a};
  \draw[color=c\b, line width=1.6pt] (54pt,\yy pt) -- (64pt,\yy pt);
  \node[white, anchor=base west, inner sep=0pt] at (65pt,\yy pt-3.6pt) {P\b};
}
\draw[draw=ctlblue, line width=1.6pt] (0pt,355pt) -- (9pt,355pt);
\node[white, anchor=base west, inner sep=0pt] at (10pt,351.4pt) {Control};
\draw[draw=white, line width=1.6pt] (54pt,355pt) -- (64pt,355pt);
\node[white, anchor=base west, inner sep=0pt] at (65pt,351.4pt) {Ens. mean};
\fill[opergreen] (0pt,337pt) rectangle (9pt,339pt);
\node[white, anchor=base west, inner sep=0pt] at (10pt,334.4pt) {Oper};
\end{scope}

% title and footer
\node[white, anchor=base, font=\bfseries\fontsize{15.5}{18}\selectfont] at (435pt,603pt)
  {De Bilt\ \ (NL)\ \ 2m Temp. \& Neerslag | Tue, 18Aug2026 06Z};
\node[white, anchor=base west, inner sep=0pt, font=\fontsize{15.8}{18}\selectfont] at (120pt,16pt) {GFS Ensemble, 52N, 5E};
\node[white, anchor=base west, inner sep=0pt, font=\fontsize{15.8}{18}\selectfont] at (650pt,16pt) {Wetterzentrale.de};

\pgfresetboundingbox
\path[use as bounding box] (0pt,0pt) rectangle (850pt,620pt);
\end{tikzpicture}
\end{document}
